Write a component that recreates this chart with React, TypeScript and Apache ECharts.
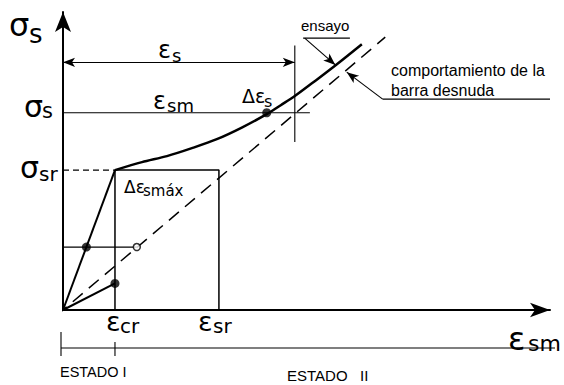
import { useEffect, useRef } from "react";
import * as echarts from "echarts";

type Pt = [number, number];

// Strain axis in multiples of the cracking strain, stress axis in multiples of the cracking stress.
const X_MAX = 9.37;
const Y_MAX = 2.13;

const EPS_CR = 1.0; // εcr
const EPS_SR = 3.0; // εsr
const SIG_SR = 1.0; // σsr
const SIG_S = 1.41; // σs
const EPS_S = 4.46; // εs at σs
const SIG_LOW = 0.45; // stress level inside Estado I

// Measured member response (ensayo), from first cracking upward
const testCurve: Pt[] = [
  [1.0, 1.0],
  [1.52, 1.057],
  [2.0, 1.1],
  [2.48, 1.157],
  [2.96, 1.221],
  [3.44, 1.304],
  [3.92, 1.4],
  [4.19, 1.464],
  [4.46, 1.529],
  [4.87, 1.643],
  [5.27, 1.757],
  [5.75, 1.9],
];
// Uncracked branch (Estado I)
const stateILine: Pt[] = [
  [0, 0],
  [EPS_CR, SIG_SR],
];
const lowerLine: Pt[] = [
  [0, 0],
  [EPS_CR, 0.19],
];
// Bare bar behaviour (comportamiento de la barra desnuda)
const bareBar: Pt[] = [
  [-0.12, -0.038],
  [6.2, 1.95],
];
const crackBox: Pt[] = [
  [EPS_CR, 0],
  [EPS_CR, SIG_SR],
  [EPS_SR, SIG_SR],
  [EPS_SR, 0],
];
const sigSrGuide: Pt[] = [
  [0, SIG_SR],
  [EPS_CR, SIG_SR],
];
const sigSGuide: Pt[] = [
  [0, SIG_S],
  [4.75, SIG_S],
];
const epsSGuide: Pt[] = [
  [EPS_S, 1.2],
  [EPS_S, 1.89],
];
const lowGuide: Pt[] = [
  [0, SIG_LOW],
  [1.42, SIG_LOW],
];
const solidDots: Pt[] = [
  [0.45, SIG_LOW],
  [EPS_CR, 0.19],
  [3.92, SIG_S],
];
const openDots: Pt[] = [[1.42, SIG_LOW]];

// Callout leaders: underline + arrow to the curve
const ensayoUnderline: Pt[] = [
  [4.62, 1.943],
  [5.52, 1.943],
];
const ensayoArrow: Pt[] = [
  [4.65, 1.943],
  [5.24, 1.752],
];
const barraUnderline: Pt[] = [
  [6.15, 1.507],
  [9.37, 1.507],
];
const barraArrow: Pt[] = [
  [6.15, 1.507],
  [5.46, 1.7],
];
const epsSArrow: Pt[] = [
  [0, 1.77],
  [EPS_S, 1.77],
];

const GREEK = "DejaVu Sans";
const LATIN = "Liberation Sans";

function seg(data: Pt[], width: number, type: any = "solid", z = 3) {
  return {
    type: "line",
    data,
    symbol: "none",
    silent: true,
    clip: false,
    z,
    lineStyle: { color: "#000", width, type },
    emphasis: { disabled: true },
  };
}

function txt(text: string, x: number, y: number, size: number, family = GREEK) {
  return {
    type: "text",
    x,
    y,
    silent: true,
    style: {
      text,
      fontSize: size,
      fontFamily: family,
      fill: "#000",
      align: "left",
      verticalAlign: "middle",
      textAlign: "left",
      textVerticalAlign: "middle",
    },
  };
}

export default function App() {
  const ref = useRef<HTMLDivElement>(null);

  useEffect(() => {
    if (!ref.current) return;
    document.body.style.margin = "0";
    const chart = echarts.init(ref.current, undefined, { renderer: "svg" });

    const arrowPair = (p: Pt[], both = false) => [
      { coord: p[0], symbol: both ? "arrow" : "none" },
      { coord: p[1], symbol: "arrow" },
    ];

    chart.setOption({
      animation: false,
      backgroundColor: "#fff",
      grid: { left: 63, top: 12, right: 14, bottom: 75 },
      xAxis: {
        type: "value",
        min: 0,
        max: X_MAX,
        axisLine: {
          show: true,
          onZero: false,
          symbol: ["none", "arrow"],
          symbolSize: [11, 20],
          lineStyle: { color: "#000", width: 2 },
        },
        axisTick: { show: false },
        axisLabel: { show: false },
        splitLine: { show: false },
      },
      yAxis: {
        type: "value",
        min: 0,
        max: Y_MAX,
        axisLine: {
          show: true,
          onZero: false,
          symbol: ["none", "arrow"],
          symbolSize: [12, 20],
          lineStyle: { color: "#000", width: 2 },
        },
        axisTick: { show: false },
        axisLabel: { show: false },
        splitLine: { show: false },
      },
      series: [
        { ...seg(testCurve, 2.5), smooth: 0.3 },
        seg(stateILine, 2),
        seg(lowerLine, 2),
        seg(crackBox, 1.5),
        seg(sigSrGuide, 1.3, [6, 4]),
        seg(sigSGuide, 1.1),
        seg(epsSGuide, 1.1),
        seg(lowGuide, 1.3),
        seg(bareBar, 1.5, [13, 8]),
        seg(ensayoUnderline, 1.1),
        seg(barraUnderline, 1.1),
        {
          type: "scatter",
          data: solidDots,
          symbol: "circle",
          symbolSize: 9,
          silent: true,
          z: 5,
          itemStyle: { color: "#000" },
        },
        {
          type: "scatter",
          data: openDots,
          symbol: "circle",
          symbolSize: 7,
          silent: true,
          z: 5,
          itemStyle: { color: "#fff", borderColor: "#000", borderWidth: 1.5 },
        },
        {
          type: "line",
          data: [],
          silent: true,
          markLine: {
            silent: true,
            animation: false,
            symbolSize: [7, 12],
            label: { show: false },
            emphasis: { disabled: true },
            lineStyle: { color: "#000", width: 1.1, type: "solid" },
            data: [
              arrowPair(epsSArrow, true),
              arrowPair(ensayoArrow),
              arrowPair(barraArrow),
            ],
          },
        },
      ],
    });

    const px = (p: Pt) =>
      chart.convertToPixel({ gridIndex: 0 }, p) as unknown as number[];
    const o = px([0, 0]);
    const cr = px([EPS_CR, 0]);
    const bracketY = 348;

    chart.setOption({
      graphic: [
        // Estado I / Estado II bracket under the strain axis
        {
          type: "line",
          silent: true,
          shape: { x1: o[0] - 2, y1: bracketY, x2: 555, y2: bracketY },
          style: { stroke: "#000", lineWidth: 1.1 },
        },
        {
          type: "line",
          silent: true,
          shape: { x1: o[0] - 2, y1: bracketY - 16, x2: o[0] - 2, y2: bracketY + 8 },
          style: { stroke: "#000", lineWidth: 1.1 },
        },
        {
          type: "line",
          silent: true,
          shape: { x1: cr[0], y1: bracketY - 6, x2: cr[0], y2: bracketY + 8 },
          style: { stroke: "#000", lineWidth: 1.1 },
        },
        txt("ESTADO I", 60, 372, 14.5, LATIN),
        txt("ESTADO   II", 287, 375, 15, LATIN),

        // σs axis title
        txt("σ", 9, 25, 32),
        txt("s", 29, 34, 26),
        // σs level
        txt("σ", 24, 106, 30),
        txt("s", 42, 111, 21),
        // σsr level
        txt("σ", 20, 167, 30),
        txt("sr", 39, 174, 20),
        // εcr, εsr
        txt("ε", 106, 321, 27),
        txt("cr", 120, 326, 20),
        txt("ε", 198, 321, 27),
        txt("sr", 213, 326, 20),
        // εsm axis title
        txt("ε", 508, 339, 32),
        txt("sm", 528, 343, 22),
        // εs and εsm over the guide lines
        txt("ε", 158, 50, 24),
        txt("s", 172, 55, 18),
        txt("ε", 153, 101, 24),
        txt("sm", 167, 105, 18),
        // Δεs
        txt("Δε", 242, 96, 19),
        txt("s", 264, 101, 16),
        // Δεsmáx
        txt("Δε", 124, 187, 17),
        txt("smáx", 143, 191, 15),
        // callouts
        txt("ensayo", 301, 25, 15, LATIN),
        txt("comportamiento de la", 391, 70, 16, LATIN),
        txt("barra desnuda", 391, 90, 16, LATIN),
      ],
    });

    return () => chart.dispose();
  }, []);

  return <div ref={ref} style={{ width: 564, height: 385 }} />;
}
